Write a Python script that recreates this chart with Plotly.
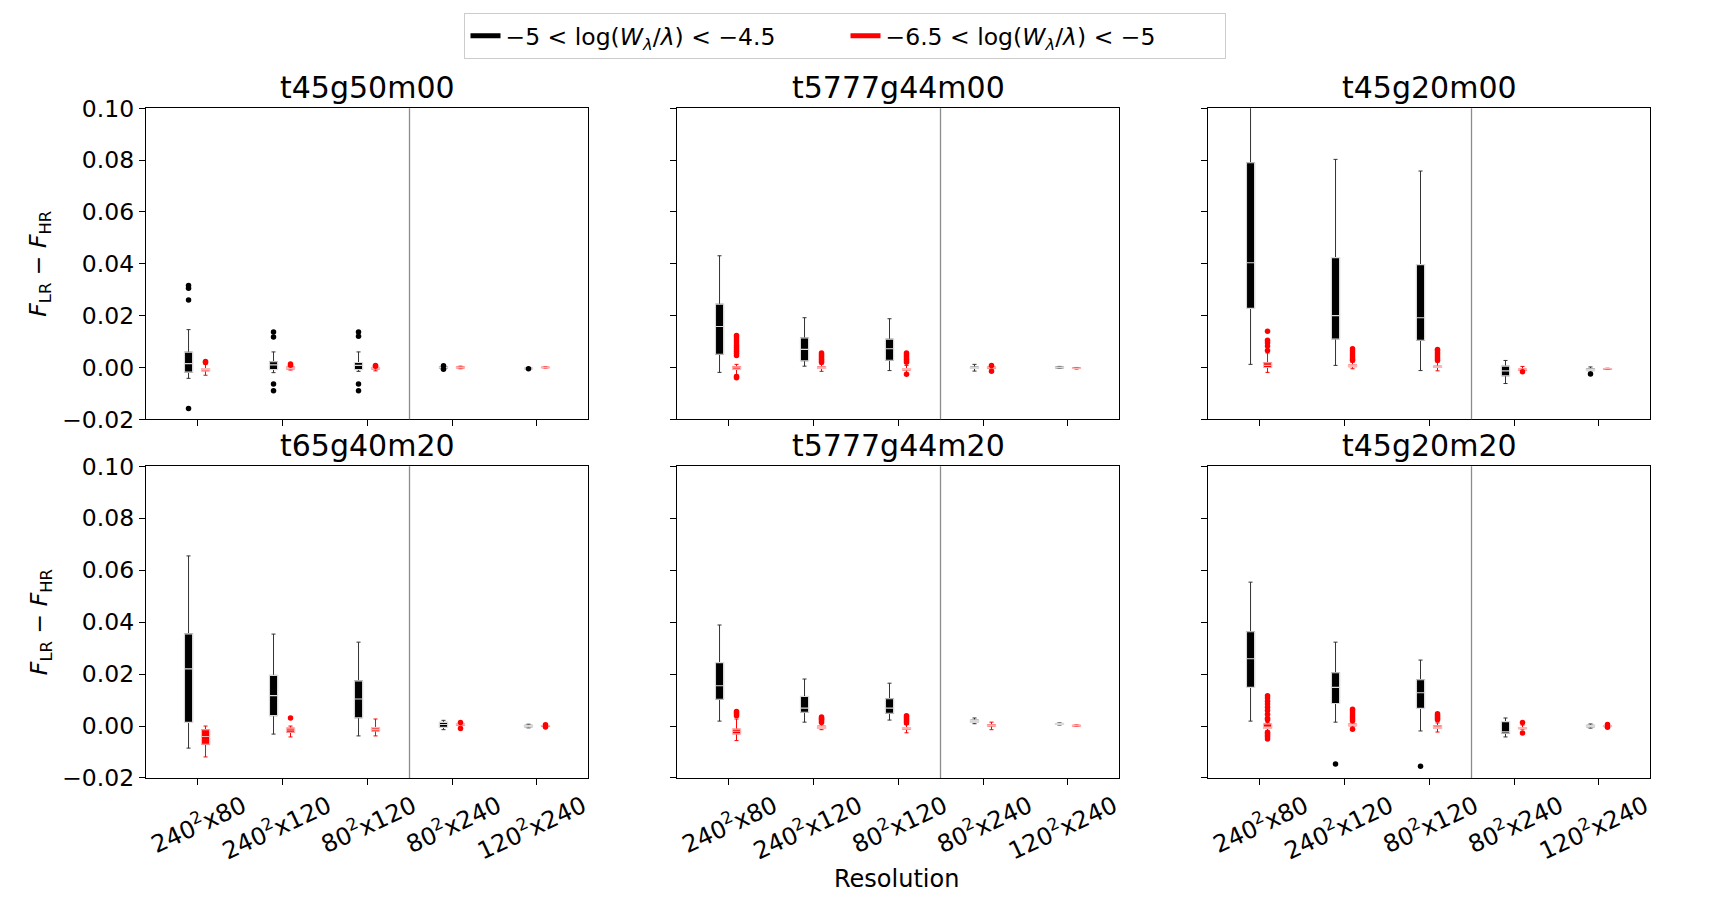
import plotly.graph_objects as go
from plotly.subplots import make_subplots

# panel names and resolution categories
panels = ['t45g50m00', 't5777g44m00', 't45g20m00',
          't65g40m20', 't5777g44m20', 't45g20m20']
resolutions = ['240<sup>2</sup>x80', '240<sup>2</sup>x120', '80<sup>2</sup>x120',
               '80<sup>2</sup>x240', '120<sup>2</sup>x240']
positions = [1, 2, 3, 4, 5]

# -5 < log(W/lambda) < -4.5  (black), one row per panel, one value per resolution
black_lo = [[-0.0042, -0.0020, -0.0015, -0.0005, -0.0006],
            [-0.0019, 0.0005, -0.0012, -0.0014, -0.0004],
            [0.0012, 0.0008, -0.0012, -0.0062, -0.0018],
            [-0.0085, -0.0031, -0.0038, -0.0014, -0.0007],
            [0.0019, 0.0015, 0.0023, 0.0009, 0.0004],
            [0.0019, 0.0015, -0.0019, -0.0042, -0.0008]]
black_q1 = [[-0.0018, -0.0008, -0.0008, -0.0003, -0.0005],
            [0.0051, 0.0026, 0.0028, -0.0004, -0.0002],
            [0.0228, 0.0110, 0.0105, -0.0032, -0.0012],
            [0.0014, 0.0040, 0.0032, -0.0005, -0.0003],
            [0.0103, 0.0053, 0.0049, 0.0014, 0.0006],
            [0.0149, 0.0087, 0.0068, -0.0028, -0.0003]]
black_med = [[0.0015, 0.0010, 0.0008, 0.0000, -0.0004],
             [0.0158, 0.0070, 0.0072, -0.0001, 0.0000],
             [0.0404, 0.0200, 0.0192, -0.0013, -0.0008],
             [0.0220, 0.0117, 0.0104, 0.0006, 0.0000],
             [0.0155, 0.0069, 0.0069, 0.0019, 0.0008],
             [0.0259, 0.0149, 0.0128, -0.0022, 0.0000]]
black_q3 = [[0.0059, 0.0022, 0.0019, 0.0003, -0.0003],
            [0.0244, 0.0114, 0.0109, 0.0002, 0.0002],
            [0.0790, 0.0424, 0.0397, 0.0005, -0.0005],
            [0.0355, 0.0195, 0.0174, 0.0014, 0.0003],
            [0.0244, 0.0114, 0.0105, 0.0023, 0.0010],
            [0.0363, 0.0205, 0.0178, 0.0017, 0.0003]]
black_hi = [[0.0146, 0.0060, 0.0060, 0.0005, -0.0002],
            [0.0431, 0.0192, 0.0188, 0.0012, 0.0004],
            [0.1020, 0.0803, 0.0758, 0.0027, 0.0002],
            [0.0655, 0.0354, 0.0323, 0.0022, 0.0007],
            [0.0389, 0.0181, 0.0165, 0.0031, 0.0012],
            [0.0554, 0.0323, 0.0254, 0.0031, 0.0008]]
black_out = [[[0.0316, 0.0306, 0.0260, -0.0158], [0.0137, 0.0118, -0.0064, -0.0090],
              [0.0137, 0.0120, -0.0064, -0.0090], [0.0007, -0.0007], [-0.0005]],
             [[], [], [], [], []],
             [[], [], [], [], [-0.0025]],
             [[], [], [], [], []],
             [[], [], [], [], []],
             [[], [-0.0146], [-0.0155], [], []]]

# -6.5 < log(W/lambda) < -5  (red)
red_lo = [[-0.0030, -0.0010, -0.0013, -0.0005, -0.0002],
          [-0.0029, -0.0015, -0.0022, -0.0008, -0.0006],
          [-0.0019, -0.0005, -0.0013, -0.0014, -0.0007],
          [-0.0119, -0.0042, -0.0038, 0.0000, -0.0002],
          [-0.0056, -0.0014, -0.0026, -0.0014, -0.0001],
          [-0.0020, -0.0004, -0.0023, -0.0012, -0.0005]]
red_q1 = [[-0.0013, -0.0006, -0.0006, -0.0002, -0.0001],
          [-0.0008, -0.0004, -0.0010, -0.0003, -0.0004],
          [0.0000, 0.0003, 0.0000, -0.0011, -0.0006],
          [-0.0070, -0.0024, -0.0019, 0.0003, -0.0001],
          [-0.0030, -0.0009, -0.0012, 0.0000, 0.0000],
          [-0.0009, 0.0001, -0.0009, -0.0010, -0.0002]]
red_med = [[-0.0008, -0.0002, -0.0003, 0.0000, 0.0000],
           [-0.0002, 0.0000, -0.0007, 0.0000, -0.0003],
           [0.0008, 0.0006, 0.0002, -0.0009, -0.0005],
           [-0.0040, -0.0015, -0.0013, 0.0006, 0.0001],
           [-0.0020, -0.0004, -0.0008, 0.0003, 0.0002],
           [-0.0004, 0.0004, -0.0004, -0.0008, 0.0000]]
red_q3 = [[-0.0004, 0.0002, 0.0000, 0.0002, 0.0001],
          [0.0003, 0.0003, -0.0004, 0.0002, -0.0002],
          [0.0018, 0.0010, 0.0005, -0.0006, -0.0004],
          [-0.0014, -0.0008, -0.0006, 0.0010, 0.0002],
          [-0.0012, 0.0000, -0.0006, 0.0005, 0.0003],
          [0.0008, 0.0008, 0.0001, -0.0006, 0.0002]]
red_hi = [[0.0013, 0.0006, 0.0003, 0.0005, 0.0002],
          [0.0012, 0.0012, 0.0008, 0.0005, 0.0000],
          [0.0056, 0.0020, 0.0020, 0.0004, -0.0003],
          [0.0000, 0.0000, 0.0027, 0.0012, 0.0003],
          [0.0027, 0.0010, 0.0006, 0.0015, 0.0004],
          [0.0014, 0.0012, 0.0012, 0.0004, 0.0004]]
red_out = [[[0.0023, 0.0019], [0.0013, 0.0009], [0.0008, 0.0005], [], []],
           [[0.0046, 0.0055, 0.0063, 0.0070, 0.0078, 0.0086, 0.0094, 0.0102, 0.0110,
             0.0118, 0.0123, -0.0035, -0.0040],
            [0.0020, 0.0026, 0.0032, 0.0038, 0.0044, 0.0050, 0.0056],
            [0.0020, 0.0026, 0.0032, 0.0038, 0.0044, 0.0050, 0.0056, -0.0026],
            [0.0008, -0.0015], []],
           [[0.0140, 0.0105, 0.0095, 0.0083, 0.0065],
            [0.0028, 0.0033, 0.0040, 0.0048, 0.0056, 0.0064, 0.0072],
            [0.0028, 0.0035, 0.0042, 0.0050, 0.0058, 0.0065, 0.0069],
            [-0.0017], []],
           [[], [0.0031], [], [0.0014, -0.0009], [0.0005, -0.0004]],
           [[0.0040, 0.0046, 0.0050, 0.0056],
            [0.0014, 0.0020, 0.0026, 0.0030, 0.0035],
            [0.0012, 0.0018, 0.0024, 0.0030, 0.0036, 0.0040], [], []],
           [[0.0117, 0.0108, 0.0095, 0.0085, 0.0072, 0.0060, 0.0045, 0.0030, 0.0024,
             -0.0024, -0.0030, -0.0036, -0.0042, -0.0050],
            [0.0065, 0.0058, 0.0050, 0.0043, 0.0035, 0.0028, 0.0020, -0.0012],
            [0.0047, 0.0042, 0.0036, 0.0030, 0.0024],
            [0.0014, -0.0027], [0.0006, -0.0005]]]

legend_names = ['\u22125 < log(<i>W</i><sub><i>\u03bb</i></sub>/<i>\u03bb</i>) < \u22124.5',
                '\u22126.5 < log(<i>W</i><sub><i>\u03bb</i></sub>/<i>\u03bb</i>) < \u22125']

groups = [
    dict(color='black', whisker='#333333', edge='#d9d9d9', shift=-0.1,
         lo=black_lo, q1=black_q1, med=black_med, q3=black_q3, hi=black_hi, out=black_out),
    dict(color='red', whisker='red', edge='#ffb4b4', shift=0.1,
         lo=red_lo, q1=red_q1, med=red_med, q3=red_q3, hi=red_hi, out=red_out),
]

fig = make_subplots(rows=2, cols=3)

# the page body adds an 8px margin, so everything is placed 8px up/left
col_x = [(0.0803, 0.3374), (0.3892, 0.6463), (0.6981, 0.9552)]
row_y = [(0.5425, 0.8884), (0.1435, 0.4902)]
font = 'DejaVu Sans'

for i, name in enumerate(panels):
    row, col = i // 3 + 1, i % 3 + 1
    for g in groups:
        xs = [p + g['shift'] for p in positions]
        # whiskers + caps
        fig.add_trace(go.Box(x=xs, q1=g['q1'][i], median=g['med'][i], q3=g['q3'][i],
                             lowerfence=g['lo'][i], upperfence=g['hi'][i],
                             orientation='v', width=0.095, whiskerwidth=0.5,
                             fillcolor=g['color'], line=dict(color=g['whisker'], width=1),
                             boxpoints=False, showlegend=False, hoverinfo='skip'),
                      row=row, col=col)
        # box body with pale edge and median
        fig.add_trace(go.Box(x=xs, q1=g['q1'][i], median=g['med'][i], q3=g['q3'][i],
                             lowerfence=g['q1'][i], upperfence=g['q3'][i],
                             orientation='v', width=0.095, whiskerwidth=0,
                             fillcolor=g['color'], line=dict(color=g['edge'], width=1.1),
                             boxpoints=False, showlegend=False, hoverinfo='skip'),
                      row=row, col=col)
        ox, oy = [], []
        for j, pts in enumerate(g['out'][i]):
            ox += [positions[j] + g['shift']] * len(pts)
            oy += pts
        fig.add_trace(go.Scatter(x=ox, y=oy, mode='markers',
                                 marker=dict(color=g['color'], size=5.5),
                                 showlegend=False, hoverinfo='skip'),
                      row=row, col=col)
    fig.add_vline(x=3.5, line=dict(color='#8c8c8c', width=1.3), row=row, col=col)

    fig.update_xaxes(domain=col_x[col - 1], range=[0.4, 5.6], tickvals=positions,
                     ticktext=resolutions, showticklabels=(row == 2), tickangle=-25,
                     ticklabelshift=46, ticklabelstandoff=-2, row=row, col=col)
    fig.update_yaxes(domain=row_y[row - 1], range=[-0.02, 0.10], tick0=0, dtick=0.02,
                     tickformat='.2f', showticklabels=(col == 1), row=row, col=col)

    fig.add_annotation(text=name, x=sum(col_x[col - 1]) / 2, y=row_y[row - 1][1],
                       xref='paper', yref='paper', xanchor='center', yanchor='bottom',
                       yshift=1, showarrow=False, font=dict(size=30, color='black'))

# legend entries
for name, color in zip(legend_names, ['black', 'red']):
    fig.add_trace(go.Scatter(x=[None], y=[None], mode='lines', name=name,
                             line=dict(color=color, width=5)), row=1, col=1)

ylabel = '<i>F</i><sub>LR</sub> \u2212 <i>F</i><sub>HR</sub>'
for r in row_y:
    fig.add_annotation(text=ylabel, x=0.0186, y=sum(r) / 2, xref='paper', yref='paper',
                       xanchor='center', yanchor='middle', textangle=-90,
                       showarrow=False, font=dict(size=23.5, color='black'))

fig.add_annotation(text='Resolution', x=0.5171, y=0.0311, xref='paper', yref='paper',
                   xanchor='center', yanchor='middle',
                   showarrow=False, font=dict(size=24, color='black'))

fig.update_xaxes(showline=True, mirror=True, linecolor='black', linewidth=1.3,
                 ticks='outside', ticklen=6, tickcolor='black', showgrid=False,
                 zeroline=False, automargin=False, tickfont=dict(size=24, color='black'))
fig.update_yaxes(showline=True, mirror=True, linecolor='black', linewidth=1.3,
                 ticks='outside', ticklen=6, tickcolor='black', showgrid=False,
                 zeroline=False, automargin=False, tickfont=dict(size=23.5, color='black'))

fig.update_layout(width=1719, height=899, margin=dict(l=0, r=0, t=0, b=0),
                  plot_bgcolor='white', paper_bgcolor='white', boxmode='overlay',
                  font=dict(family=font, color='black'),
                  legend=dict(orientation='h', x=0.4872, xanchor='center', y=0.9944,
                              yanchor='top', bordercolor='#cccccc', borderwidth=1,
                              entrywidth=335, entrywidthmode='pixels',
                              font=dict(size=23.5), bgcolor='white'))

fig.write_html('out.html')
